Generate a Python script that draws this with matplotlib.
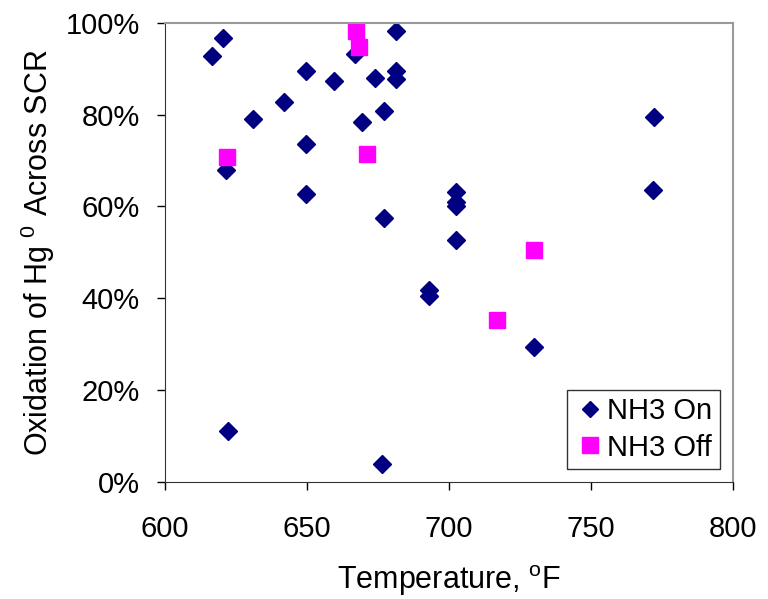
import matplotlib
matplotlib.use('Agg')
import matplotlib.pyplot as plt
from matplotlib.ticker import PercentFormatter

plt.rcParams['font.family'] = ['Liberation Sans', 'DejaVu Sans']
plt.rcParams['mathtext.default'] = 'regular'

# NH3 on: temperature (F) and oxidation (%)
temp_on = [620.5, 616.7, 649.5, 659.5, 673.9, 681.2, 681.2, 681.2, 667.0,
           642.0, 631.1, 677.1, 669.5, 649.5, 621.5, 649.5, 677.1,
           702.3, 702.3, 702.3, 771.8, 702.3, 692.8, 692.8, 730.0, 676.3,
           772.3, 622.2]
ox_on = [96.7, 92.8, 89.4, 87.3, 88.0, 98.3, 89.5, 87.8, 93.2,
         82.8, 79.0, 80.8, 78.3, 73.6, 67.9, 62.6, 57.4,
         63.2, 61.0, 60.0, 63.5, 52.6, 41.7, 40.6, 29.4, 4.0,
         79.5, 11.1]

# NH3 off
temp_off = [667.3, 668.4, 621.7, 671.1, 730.0, 716.8]
ox_off = [98.1, 94.7, 70.8, 71.5, 50.5, 35.3]

fig = plt.figure(figsize=(7.68, 5.99), dpi=100)
ax = fig.add_axes([0.2148, 0.1953, 0.7396, 0.7668])

ax.plot(temp_on, ox_on, linestyle='none', marker='D', markersize=8.7,
        color='#000080', label='NH3 On')
ax.plot(temp_off, ox_off, linestyle='none', marker='s', markersize=12,
        color='#FF00FF', label='NH3 Off')

ax.set_xlim(600, 800)
ax.set_ylim(0, 100)
ax.set_xticks([600, 650, 700, 750, 800])
ax.set_yticks([0, 20, 40, 60, 80, 100])
ax.yaxis.set_major_formatter(PercentFormatter(decimals=0))
ax.tick_params(labelsize=21, length=6, direction='out', width=1)
ax.tick_params(axis='x', pad=18)
ax.tick_params(axis='y', pad=12)

for s in ['top', 'right']:
    ax.spines[s].set_color('#999999')
    ax.spines[s].set_linewidth(1.5)
for s in ['left', 'bottom']:
    ax.spines[s].set_color('#333333')

ax.set_xlabel('Temperature, $^{o}$F', fontsize=22, labelpad=14)
ax.set_ylabel('Oxidation of Hg $^{0}$ Across SCR', fontsize=22, labelpad=6)

leg = ax.legend(loc='lower right', fontsize=21, frameon=True, fancybox=False,
                edgecolor='black', handletextpad=0.05, handlelength=1.1,
                borderaxespad=0.45, borderpad=0.25, labelspacing=0.3,
                markerscale=0.95)
leg.get_frame().set_linewidth(1.0)

fig.savefig('out.png', dpi=100)
